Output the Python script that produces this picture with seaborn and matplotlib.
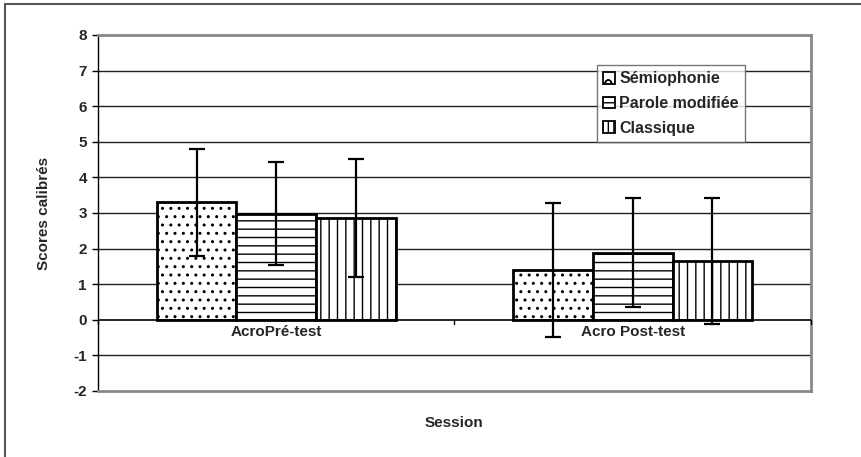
import numpy as np
import pandas as pd
import matplotlib
matplotlib.use("Agg")
import matplotlib.pyplot as plt
import seaborn as sns
from matplotlib.lines import Line2D
from matplotlib.patches import Patch

# data
sessions = ["AcroPré-test", "Acro Post-test"]
methods = ["Sémiophonie", "Parole modifiée", "Classique"]
means_pre = [3.30, 2.98, 2.86]
means_post = [1.40, 1.89, 1.66]
sd_pre = [1.50, 1.44, 1.66]
sd_post = [1.87, 1.54, 1.77]
yticks = [-2, -1, 0, 1, 2, 3, 4, 5, 6, 7, 8]

df = pd.DataFrame({
    "Session": [sessions[0]] * 3 + [sessions[1]] * 3,
    "Méthode": methods * 2,
    "Score": means_pre + means_post,
    "SD": sd_pre + sd_post,
})

sns.set_style("white")
plt.rcParams["font.family"] = ["Liberation Sans", "DejaVu Sans"]
plt.rcParams["font.weight"] = "bold"
plt.rcParams["hatch.linewidth"] = 1.0

fig = plt.figure(figsize=(8.62, 4.57), dpi=100)
ax = fig.add_axes([98 / 862, 1 - 391 / 457, (811 - 98) / 862, (391 - 35) / 457])

sns.barplot(data=df, x="Session", y="Score", hue="Méthode", order=sessions,
            hue_order=methods, errorbar=None, width=0.67,
            palette=["white"] * 3, edgecolor="black", linewidth=2, ax=ax,
            legend=False, zorder=3)

hatches = ["..", "--", "||"]
bar_groups = list(ax.containers)
for i, cont in enumerate(bar_groups):
    sub = df[df["Méthode"] == methods[i]]
    for bar, sd in zip(cont, sub["SD"]):
        bar.set_hatch(hatches[i])
        x = bar.get_x() + bar.get_width() / 2
        ax.errorbar(x, bar.get_height(), yerr=sd, fmt="none", ecolor="black",
                    elinewidth=1.6, capsize=6, capthick=1.6, zorder=4)

ax.set_ylim(-2, 8)
ax.set_xlim(-0.5, 1.5)
ax.set_yticks(yticks)
ax.set_yticklabels([str(t) for t in yticks], fontsize=11, fontweight="bold")
ax.tick_params(axis="y", length=4, width=1, color="black", left=True, pad=4)
for t in yticks[3:]:
    ax.axhline(t, color="#222222", lw=1, zorder=1)
ax.axhline(-1, color="#222222", lw=1, zorder=1)
ax.axhline(0, color="black", lw=1.2, zorder=5)

# category axis at y=0
ax.set_xticks([])
ax.set_xlabel("")
for k, s in enumerate(sessions):
    ax.annotate(s, xy=(k, 0), xytext=(0, -4), textcoords="offset points",
                ha="center", va="top", fontsize=11, fontweight="bold", zorder=6)
for xt in [-0.5, 0.5, 1.5]:
    ax.plot([xt, xt], [0, -0.11], color="black", lw=1, zorder=6, clip_on=False)

ax.set_ylabel("Scores calibrés", fontsize=11, fontweight="bold", labelpad=16)
fig.text(454 / 862, 1 - 423 / 457, "Session", ha="center", va="center",
         fontsize=11, fontweight="bold")

for side in ["top", "right", "bottom"]:
    ax.spines[side].set_color("#888888")
    ax.spines[side].set_linewidth(2)
ax.spines["left"].set_color("black")
ax.spines["left"].set_linewidth(1)

handles = [Patch(facecolor="white", edgecolor="black", hatch=h, linewidth=1.3)
           for h in ["o", "---", "|||"]]
leg = ax.legend(handles, methods, loc="upper left",
                bbox_to_anchor=((597 - 98) / 713, (391 - 65) / 356),
                prop={"weight": "bold", "size": 11.5}, frameon=True,
                fancybox=False, handlelength=0.75, handleheight=0.75,
                handletextpad=0.25, labelspacing=0.6, borderpad=0.4,
                borderaxespad=0)
leg.get_frame().set_edgecolor("#555555")
leg.get_frame().set_linewidth(1)
leg.set_zorder(10)

# outer chart border
fig.add_artist(Line2D([5 / 862, 5 / 862], [0, 1 - 4 / 457], color="#555555", lw=1.5))
fig.add_artist(Line2D([5 / 862, 1], [1 - 4 / 457, 1 - 4 / 457], color="#555555", lw=1.5))

fig.savefig("out.png", dpi=100)
